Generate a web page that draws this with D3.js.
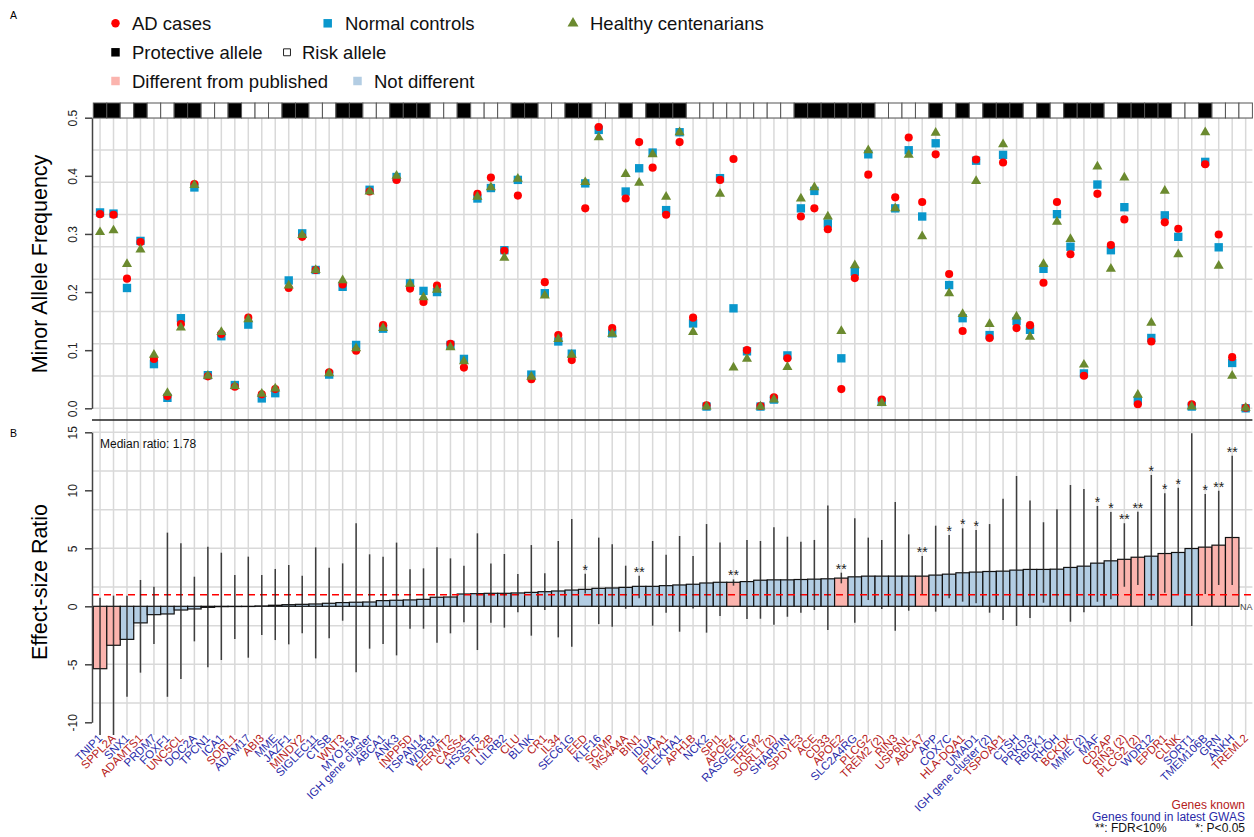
<!DOCTYPE html>
<html>
<head>
<meta charset="utf-8">
<script src="https://cdn.jsdelivr.net/npm/d3@7"></script>
<style>
body { margin: 0; background: #fff; }
text { font-family: "Liberation Sans", Arial, sans-serif; }
</style>
</head>
<body>
<div id="chart"></div>
<script>
const genes = ["TNIP1","SPPL2A","SNX1","ADAMTS1","PRDM7","FOXF1","UNC5CL","DOC2A","TPCN1","ICA1",
	"SORL1","ADAM17","ABI3","MME","JAZF1","MINDY2","SIGLEC11","CTSB","WNT3","MYO15A",
	"IGH gene cluster","ABCA1","ANK3","INPP5D","TSPAN14","WDR81","FERMT2","CASS4","HS3ST5","PTK2B",
	"LILRB2","CLU","BLNK","CR1","IL34","SEC61G","EED","KLF16","SCIMP","MS4A4A",
	"BIN1","IDUA","EPHA1","PLEKHA1","APH1B","NCK2","SPI1","APOE4","RASGEF1C","TREM2",
	"SORL1 (2)","SHARPIN","SPDYE3","ACE","CD33","APOE2","SLC2A4RG","PLCG2","TREM2 (2)","RIN3",
	"USP6NL","ABCA7","APP","COX7C","HLA-DQA1","UMAD1","IGH gene cluster (2)","TSPOAP1","CTSH","PRKD3",
	"RBCK1","RHOH","BCKDK","MME (2)","MAF","CD2AP","RIN3 (2)","PLCG2 (2)","WDR12","EPDR1",
	"CLNK","SORT1","TMEM106B","GRN","ANKH","TREML2"];

// 1 = gene known (red label), 0 = found in latest GWAS (blue label)
const geneKnown = [0,1,0,1,0,0,1,0,0,0, 1,0,1,0,0,1,0,0,1,0, 0,0,0,1,0,0,1,1,0,1,
	0,1,0,1,1,0,1,0,1,1, 1,0,1,0,1,0,1,1,0,1, 1,0,1,1,1,1,0,1,1,1,
	1,1,0,0,1,0,0,1,0,0, 0,0,1,0,0,1,1,1,0,1, 1,0,0,0,0,1];

// 1 = protective allele, 0 = risk allele
const protective = [1,1,0,1,0,0,1,1,0,0, 1,0,0,0,1,1,0,0,1,1, 0,0,1,1,1,0,0,1,0,0,
	0,1,1,0,0,1,1,0,0,1, 0,1,1,1,0,0,0,0,0,0, 0,0,1,1,1,1,1,1,0,0,
	0,0,1,0,1,0,1,1,1,0, 1,0,1,1,1,0,1,1,1,1, 0,0,1,0,0,0];

const adCases = [0.334,0.333,0.223,0.286,0.085,0.021,0.145,0.386,0.055,0.128,
	0.037,0.156,0.024,0.033,0.207,0.295,0.238,0.062,0.213,0.099,
	0.373,0.143,0.393,0.206,0.183,0.211,0.111,0.070,0.369,0.397,
	0.271,0.366,0.050,0.217,0.126,0.083,0.344,0.484,0.138,0.361,
	0.458,0.414,0.333,0.458,0.156,0.005,0.393,0.429,0.100,0.004,
	0.019,0.086,0.330,0.344,0.308,0.033,0.224,0.402,0.015,0.363,
	0.466,0.355,0.437,0.231,0.133,0.428,0.121,0.423,0.138,0.143,
	0.216,0.355,0.265,0.056,0.369,0.281,0.325,0.007,0.115,0.320,
	0.309,0.007,0.420,0.299,0.088,0.001];

const normalControls = [0.337,0.335,0.207,0.288,0.076,0.018,0.155,0.380,0.057,0.124,
	0.040,0.144,0.017,0.026,0.220,0.301,0.238,0.058,0.209,0.109,
	0.376,0.137,0.398,0.215,0.202,0.200,0.109,0.085,0.361,0.379,
	0.272,0.393,0.058,0.198,0.115,0.094,0.387,0.479,0.129,0.373,
	0.413,0.440,0.341,0.475,0.146,0.003,0.396,0.172,0.098,0.003,
	0.015,0.091,0.344,0.374,0.318,0.086,0.235,0.437,0.011,0.344,
	0.444,0.330,0.456,0.212,0.155,0.426,0.126,0.436,0.150,0.135,
	0.240,0.334,0.278,0.060,0.385,0.272,0.346,0.014,0.121,0.332,
	0.295,0.003,0.424,0.277,0.078,0.000];

const centenarians = [0.303,0.306,0.248,0.273,0.092,0.026,0.139,0.384,0.056,0.131,
	0.038,0.153,0.025,0.034,0.211,0.298,0.238,0.060,0.220,0.103,
	0.373,0.138,0.400,0.214,0.191,0.204,0.105,0.081,0.364,0.380,
	0.259,0.395,0.054,0.194,0.119,0.092,0.389,0.466,0.128,0.403,
	0.388,0.437,0.364,0.475,0.131,0.003,0.369,0.070,0.085,0.003,
	0.015,0.071,0.361,0.380,0.330,0.133,0.246,0.444,0.009,0.344,
	0.436,0.296,0.474,0.198,0.162,0.391,0.145,0.454,0.158,0.123,
	0.248,0.321,0.291,0.075,0.416,0.240,0.397,0.023,0.147,0.374,
	0.265,0.003,0.475,0.245,0.056,0.001];

const effectRatio = [-5.38,-3.36,-2.85,-1.43,-0.72,-0.66,-0.32,-0.23,-0.09,-0.03,
	-0.02,0.00,0.03,0.09,0.14,0.17,0.20,0.26,0.32,0.35,
	0.37,0.49,0.52,0.55,0.60,0.78,0.80,1.06,1.09,1.12,
	1.12,1.15,1.20,1.26,1.32,1.40,1.46,1.55,1.58,1.63,
	1.72,1.72,1.78,1.84,1.90,2.01,2.07,2.07,2.13,2.25,
	2.28,2.28,2.31,2.34,2.37,2.43,2.54,2.60,2.60,2.60,
	2.60,2.60,2.69,2.77,2.89,2.95,3.00,3.03,3.12,3.18,
	3.18,3.20,3.35,3.46,3.72,3.92,4.05,4.23,4.32,4.55,
	4.64,4.98,5.10,5.27,5.93,null];

const ciLow = [-12.0,-11.5,-7.8,-5.72,-3.25,-7.8,-6.27,-3.02,-5.26,-4.63,
	-2.82,-4.43,-2.47,-2.91,-3.28,-2.33,-4.49,-2.76,-1.24,-5.69,
	-3.65,-3.25,-4.23,-1.93,-1.93,-3.14,-2.33,-1.38,-3.77,-1.41,
	-1.84,-0.52,-2.53,-0.32,-2.68,-3.48,1.10,-1.53,-1.76,-0.21,
	0.69,-1.67,-0.55,-2.19,-0.18,-2.27,-0.84,1.78,-1.10,-1.07,
	-1.58,-0.90,-0.55,-0.32,-2.04,1.98,-1.41,0.54,-0.23,-2.10,
	-0.38,1.06,-0.46,0.69,0.40,0.26,-0.55,-1.18,-1.70,-1.01,
	0.31,0.00,-1.33,-0.52,0.40,0.60,1.69,1.84,0.54,1.17,
	1.06,-1.70,1.06,1.84,1.84,null];

const ciHigh = [0.74,0.92,0.92,2.27,1.69,6.35,5.43,2.55,5.14,4.62,
	2.70,4.28,2.70,3.22,3.56,2.64,5.08,3.33,3.70,7.15,
	4.48,4.28,5.49,3.19,3.27,5.08,4.13,3.50,6.29,3.70,
	4.51,2.79,5.28,2.84,5.63,7.53,2.80,5.92,5.34,3.50,
	2.64,5.63,4.45,6.06,4.34,7.09,5.49,2.32,5.72,5.63,
	6.81,6.00,5.57,5.72,8.70,2.90,7.58,5.92,5.72,8.99,
	6.20,4.34,6.95,6.15,6.72,6.58,7.09,9.28,11.23,9.11,
	7.24,8.36,10.46,10.11,8.65,8.13,7.15,8.16,11.32,9.74,
	10.23,14.91,9.68,9.97,12.98,null];

// 1 = different from published
const differs = [1,1,0,0,0,0,0,0,0,0, 0,0,0,0,0,0,0,0,0,0, 0,0,0,0,0,0,0,0,0,0,
	0,0,0,0,0,0,0,0,0,0, 0,0,0,0,0,0,0,1,0,0, 0,0,0,0,0,1,0,0,0,0,
	0,1,0,0,0,0,0,0,0,0, 0,0,0,0,0,0,1,1,0,1, 0,0,1,1,1,0];

const signif = ["","","","","","","","","","", "","","","","","","","","","",
	"","","","","","","","","","", "","","","","","","*","","","",
	"**","","","","","","","**","","", "","","","","","**","","","","",
	"","**","","*","*","*","","","","", "","","","","*","*","**","**","*","*",
	"*","","*","**","**",""];

const afTicks = [0, 0.1, 0.2, 0.3, 0.4, 0.5];
const ratioTicks = [-10, -5, 0, 5, 10, 15];

const width = 1254, height = 837;
const red = "#ff0000", blue = "#0a97cc", green = "#6b8a2f";
const pink = "#fbb4ae", lightBlue = "#b3cde3";
const knownCol = "#b52020", gwasCol = "#2a2aa8";
const gridCol = "#d9d9d9";

const svg = d3.select("#chart").append("svg")
	.attr("width", width)
	.attr("height", height);

const idx = d3.range(genes.length);
const x = d3.scaleBand().domain(idx).range([93.3, 1252.4]).padding(0);
const cx = (i) => x(i) + x.bandwidth() / 2;

const yA = d3.scaleLinear().domain([0, 0.5]).range([408.3, 117.7]);
const yB = d3.scaleLinear().domain([-10, 15]).range([722.3, 432.3]);

const axisX = 92, plotRight = 1252.4, plotBottom = 735;

// clip paths
const defs = svg.append("defs");
defs.append("clipPath").attr("id", "clipB").append("rect")
	.attr("x", axisX).attr("y", 420).attr("width", plotRight - axisX).attr("height", plotBottom - 420);

// ---------- grids ----------
const grid = svg.append("g");
grid.selectAll(".vgrid")
	.data(idx)
	.enter().append("line")
	.attr("x1", cx).attr("x2", cx)
	.attr("y1", 118).attr("y2", plotBottom)
	.attr("stroke", gridCol).attr("stroke-width", 1.5);

grid.selectAll(".hgridA")
	.data(d3.range(0, 10).map((k) => k * 0.5 / 9))
	.enter().append("line")
	.attr("x1", axisX).attr("x2", plotRight)
	.attr("y1", yA).attr("y2", yA)
	.attr("stroke", gridCol).attr("stroke-width", 1.5);

grid.selectAll(".hgridB")
	.data(d3.range(0, 9).map((k) => 15 - k * 10 / 3).filter((v) => yB(v) < plotBottom))
	.enter().append("line")
	.attr("x1", axisX).attr("x2", plotRight)
	.attr("y1", yB).attr("y2", yB)
	.attr("stroke", gridCol).attr("stroke-width", 1.5);

// ---------- protective / risk strip ----------
svg.selectAll(".strip")
	.data(idx)
	.enter().append("rect")
	.attr("x", (i) => x(i))
	.attr("y", 103)
	.attr("width", x.bandwidth())
	.attr("height", 15)
	.attr("fill", (i) => (protective[i] ? "#000" : "#fff"))
	.attr("stroke", "#555")
	.attr("stroke-width", 1);

// ---------- panel A points ----------
const sym = (type, size) => d3.symbol().type(type).size(size)();
const pts = svg.append("g");
pts.selectAll(".ctrl")
	.data(idx)
	.enter().append("path")
	.attr("d", sym(d3.symbolSquare, 70))
	.attr("transform", (i) => `translate(${cx(i)},${yA(normalControls[i])})`)
	.attr("fill", blue);
pts.selectAll(".ad")
	.data(idx)
	.enter().append("path")
	.attr("d", sym(d3.symbolCircle, 52))
	.attr("transform", (i) => `translate(${cx(i)},${yA(adCases[i])})`)
	.attr("fill", red);
pts.selectAll(".cent")
	.data(idx)
	.enter().append("path")
	.attr("d", sym(d3.symbolTriangle, 44))
	.attr("transform", (i) => `translate(${cx(i)},${yA(centenarians[i])})`)
	.attr("fill", green);

// divider line between panels
svg.append("line")
	.attr("x1", axisX).attr("x2", plotRight)
	.attr("y1", 420).attr("y2", 420)
	.attr("stroke", "#222").attr("stroke-width", 1.5);

// ---------- panel B bars ----------
const barIdx = idx.filter((i) => effectRatio[i] !== null);
const panelB = svg.append("g").attr("clip-path", "url(#clipB)");

panelB.selectAll(".bar")
	.data(barIdx)
	.enter().append("rect")
	.attr("x", (i) => x(i))
	.attr("width", x.bandwidth())
	.attr("y", (i) => Math.min(yB(0), yB(effectRatio[i])))
	.attr("height", (i) => Math.max(0.2, Math.abs(yB(effectRatio[i]) - yB(0))))
	.attr("fill", (i) => (differs[i] ? pink : lightBlue))
	.attr("stroke", "#111")
	.attr("stroke-width", 1.2);

// reference line at ratio 1
panelB.append("line")
	.attr("x1", axisX).attr("x2", plotRight)
	.attr("y1", yB(1)).attr("y2", yB(1))
	.attr("stroke", "#f00")
	.attr("stroke-width", 1.6)
	.attr("stroke-dasharray", "7,5");

panelB.selectAll(".ci")
	.data(barIdx)
	.enter().append("line")
	.attr("x1", cx).attr("x2", cx)
	.attr("y1", (i) => yB(ciLow[i]))
	.attr("y2", (i) => yB(ciHigh[i]))
	.attr("stroke", "#222")
	.attr("stroke-opacity", 0.85)
	.attr("stroke-width", 1.5);

svg.selectAll(".star")
	.data(idx.filter((i) => signif[i]))
	.enter().append("text")
	.attr("x", cx)
	.attr("y", (i) => yB(ciHigh[i]) + 1)
	.attr("text-anchor", "middle")
	.attr("font-size", 14)
	.attr("fill", "#222")
	.text((i) => signif[i]);

svg.append("text")
	.attr("x", 1240).attr("y", yB(0) + 4)
	.attr("font-size", 9).attr("fill", "#444")
	.text("NA");

svg.append("text")
	.attr("x", 100).attr("y", 448)
	.attr("font-size", 12).attr("fill", "#111")
	.text("Median ratio: " + d3.format(".2f")(d3.median(effectRatio.filter((v) => v !== null))));

// ---------- axes ----------
function styleAxis(g) {
	g.select(".domain").attr("stroke", "#444").attr("stroke-width", 1.5);
	g.selectAll(".tick line").attr("stroke", "#444").attr("stroke-width", 1.5);
	g.selectAll(".tick text")
		.attr("transform", "rotate(-90)")
		.attr("x", 0).attr("y", -15).attr("dy", 0)
		.style("text-anchor", "middle")
		.attr("font-size", 12)
		.attr("font-family", "Liberation Sans, Arial, sans-serif")
		.attr("fill", "#222");
}

svg.append("g")
	.attr("transform", `translate(${axisX},0)`)
	.call(d3.axisLeft(yA).tickValues(afTicks).tickFormat(d3.format(".1f")).tickSize(7).tickSizeOuter(0))
	.call(styleAxis);

svg.append("g")
	.attr("transform", `translate(${axisX},0)`)
	.call(d3.axisLeft(yB).tickValues(ratioTicks).tickFormat((d) => String(d)).tickSize(7).tickSizeOuter(0))
	.call(styleAxis);

svg.append("text")
	.attr("transform", "translate(47,264) rotate(-90)")
	.attr("text-anchor", "middle")
	.attr("font-size", 21.5)
	.text("Minor Allele Frequency");

svg.append("text")
	.attr("transform", "translate(47,582) rotate(-90)")
	.attr("text-anchor", "middle")
	.attr("font-size", 21.5)
	.text("Effect-size Ratio");

svg.append("text").attr("x", 10).attr("y", 19).attr("font-size", 10.5).text("A");
svg.append("text").attr("x", 10).attr("y", 437).attr("font-size", 10.5).text("B");

// ---------- gene labels ----------
svg.selectAll(".gene")
	.data(idx)
	.enter().append("text")
	.attr("transform", (i) => `translate(${cx(i) + 3},${739}) rotate(-45)`)
	.attr("text-anchor", "end")
	.attr("font-size", 11.5)
	.attr("fill", (i) => (geneKnown[i] ? knownCol : gwasCol))
	.text((i) => genes[i]);

// ---------- legends ----------
const legend = svg.append("g").attr("font-size", 18.5).attr("fill", "#111");
const legendRows = [
	{mark: sym(d3.symbolCircle, 56), fill: red, x: 115.5, y: 23.3, label: "AD cases", tx: 132},
	{mark: sym(d3.symbolSquare, 72), fill: blue, x: 327.7, y: 23.3, label: "Normal controls", tx: 345},
	{mark: sym(d3.symbolTriangle, 52), fill: green, x: 573, y: 23.3, label: "Healthy centenarians", tx: 590},
	{mark: sym(d3.symbolSquare, 72), fill: "#000", x: 115.5, y: 52.3, label: "Protective allele", tx: 132},
	{mark: sym(d3.symbolSquare, 48), fill: "#fff", stroke: "#222", x: 287, y: 52.3, label: "Risk allele", tx: 302},
	{mark: sym(d3.symbolSquare, 72), fill: pink, x: 115.5, y: 81, label: "Different from published", tx: 132},
	{mark: sym(d3.symbolSquare, 72), fill: lightBlue, x: 357.5, y: 81, label: "Not different", tx: 374},
];
legendRows.forEach((r) => {
	legend.append("path")
		.attr("d", r.mark)
		.attr("transform", `translate(${r.x},${r.y})`)
		.attr("fill", r.fill)
		.attr("stroke", r.stroke || "none");
	legend.append("text")
		.attr("x", r.tx).attr("y", r.y + 6.5)
		.text(r.label);
});

const notes = svg.append("g").attr("font-size", 12);
notes.append("text").attr("x", 1245).attr("y", 809).attr("text-anchor", "end").attr("fill", knownCol).text("Genes known");
notes.append("text").attr("x", 1245).attr("y", 820.5).attr("text-anchor", "end").attr("fill", gwasCol).text("Genes found in latest GWAS");
notes.append("text").attr("x", 1095).attr("y", 832).attr("fill", "#111").text("**: FDR<10%");
notes.append("text").attr("x", 1245).attr("y", 832).attr("text-anchor", "end").attr("fill", "#111").text("*: P<0.05");
</script>
</body>
</html>
